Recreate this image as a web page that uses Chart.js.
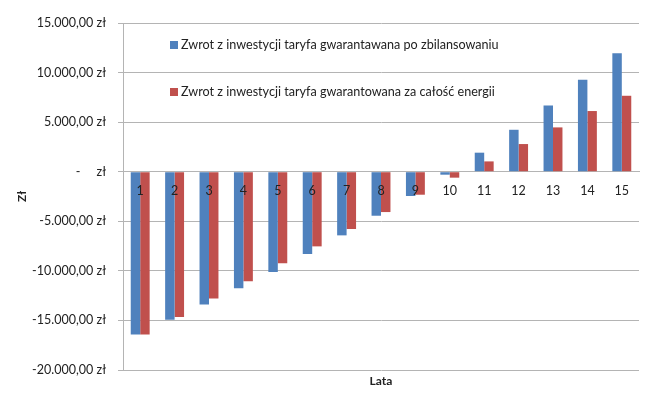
<!DOCTYPE html>
<html>
<head>
<meta charset="utf-8">
<script src="https://cdn.jsdelivr.net/npm/chart.js@4.4.1/dist/chart.umd.min.js"></script>
<style>
  html, body { margin: 0; padding: 0; background: #fff; }
  #wykres { display: block; }
</style>
</head>
<body>
<canvas id="wykres" width="650" height="397"></canvas>
<script>
// Dane
const lata = ['1','2','3','4','5','6','7','8','9','10','11','12','13','14','15'];
const zwrotZbilansowanie = [-16430, -14920, -13400, -11760, -10110, -8300, -6420, -4440, -2450, -300, 1920, 4230, 6680, 9270, 11960];
const zwrotCaloscEnergii = [-16430, -14650, -12800, -11050, -9240, -7530, -5780, -4070, -2320, -600, 1040, 2790, 4470, 6120, 7660];
const etykietyLegendy = [
  'Zwrot z inwestycji taryfa gwarantawana po zbilansowaniu',
  'Zwrot z inwestycji taryfa gwarantowana za całość energii'
];

const CZCIONKA = 'Lato';
const KOLOR_TEKSTU = '#222';
const KOLOR_SIATKI = '#b4b4b4';

// Format księgowy: 15.000,00 zł / -  zł
function formatZl(v) {
  if (v === 0) return '-     zł';
  const s = Math.abs(v).toFixed(2).replace('.', ',').replace(/\B(?=(\d{3})+(?!\d))/g, '.');
  return (v < 0 ? '-' : '') + s + ' zł';
}

// Legenda wewnątrz obszaru wykresu
const legendaWewnatrz = {
  id: 'legendaWewnatrz',
  afterDatasetsDraw(chart) {
    const { ctx, chartArea } = chart;
    ctx.save();
    ctx.font = '12.6px ' + CZCIONKA;
    ctx.textBaseline = 'middle';
    chart.data.datasets.forEach((ds, i) => {
      const y = chartArea.top + 22 + i * 47;
      const x = chartArea.left + 47;
      ctx.fillStyle = ds.backgroundColor;
      ctx.fillRect(x, y - 4, 8, 8);
      ctx.fillStyle = KOLOR_TEKSTU;
      ctx.fillText(ds.label, x + 11, y);
    });
    ctx.restore();
  }
};

new Chart(document.getElementById('wykres').getContext('2d'), {
  type: 'bar',
  data: {
    labels: lata,
    datasets: [
      { label: etykietyLegendy[0], data: zwrotZbilansowanie, backgroundColor: '#4f81bd', barPercentage: 1, categoryPercentage: 0.55 },
      { label: etykietyLegendy[1], data: zwrotCaloscEnergii, backgroundColor: '#c0504d', barPercentage: 1, categoryPercentage: 0.55 }
    ]
  },
  options: {
    responsive: false,
    animation: false,
    layout: { padding: { top: 23, right: 11, left: 0, bottom: 0 } },
    plugins: { legend: { display: false }, tooltip: { enabled: false } },
    scales: {
      x: {
        position: { y: 0 },
        grid: { display: false, drawTicks: false },
        border: { display: true, color: KOLOR_SIATKI },
        ticks: { z: 1, color: KOLOR_TEKSTU, padding: 12, font: { family: CZCIONKA, size: 12.5 } }
      },
      x2: {
        type: 'category',
        labels: lata,
        position: 'bottom',
        grid: { display: false, drawTicks: false },
        border: { display: false },
        ticks: { display: false },
        title: { display: true, text: 'Lata', color: KOLOR_TEKSTU, font: { family: CZCIONKA, size: 12, weight: 'bold' }, padding: { top: 9, bottom: 9 } },
        afterFit: s => { s.height = 27; }
      },
      y: {
        min: -20000,
        max: 15000,
        grid: { color: KOLOR_SIATKI, tickLength: 5 },
        border: { color: KOLOR_SIATKI },
        ticks: { stepSize: 5000, padding: 12, color: KOLOR_TEKSTU, font: { family: CZCIONKA, size: 12.5 }, callback: v => formatZl(v) },
        title: { display: true, text: 'Zł', color: KOLOR_TEKSTU, font: { family: CZCIONKA, size: 12, weight: 'bold' }, padding: { top: 15, bottom: 15 } },
        afterFit: s => { s.width = 123; }
      }
    }
  },
  plugins: [legendaWewnatrz]
});
</script>
</body>
</html>
